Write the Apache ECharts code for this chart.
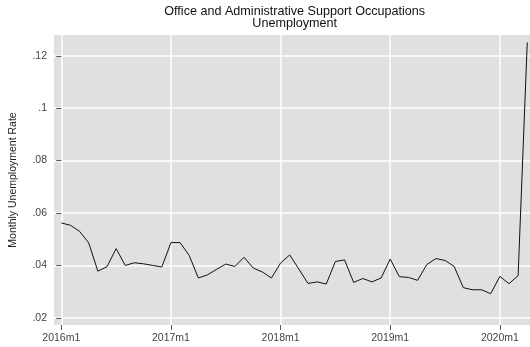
<!DOCTYPE html>
<html>
<head>
<meta charset="utf-8">
<script src="https://cdn.jsdelivr.net/npm/echarts@6/dist/echarts.min.js"></script>
<style>
html,body{margin:0;padding:0;background:#fff;}
#c{width:530px;height:347px;}
</style>
</head>
<body>
<div id="c"></div>
<script>
const months = [];
for (let y = 2016; y <= 2020; y++) for (let m = 1; m <= 12; m++) months.push(y + 'm' + m);
const categories = months.slice(0, 52);
const unemployment = [
  0.0562, 0.0553, 0.0530, 0.0486, 0.0378, 0.0395, 0.0464, 0.0400, 0.0410, 0.0406, 0.0400, 0.0394,
  0.0487, 0.0487, 0.0438, 0.0352, 0.0364, 0.0385, 0.0405, 0.0396, 0.0431, 0.0390, 0.0375, 0.0352,
  0.0409, 0.0440, 0.0386, 0.0331, 0.0337, 0.0329, 0.0415, 0.0421, 0.0335, 0.0350, 0.0337, 0.0352,
  0.0424, 0.0357, 0.0354, 0.0343, 0.0403, 0.0426, 0.0419, 0.0396, 0.0315, 0.0307, 0.0307, 0.0292,
  0.0358, 0.0330, 0.0361, 0.1251
];
const xTickLabels = ['2016m1', '2017m1', '2018m1', '2019m1', '2020m1'];
const yTickValues = [0.02, 0.04, 0.06, 0.08, 0.10, 0.12];
const yTickLabels = ['.02', '.04', '.06', '.08', '.1', '.12'];

const xTickValues = xTickLabels.map(l => categories.indexOf(l));
const seriesData = categories.map((c, i) => [i, unemployment[i]]);
const font = 'Liberation Sans, Arial, Helvetica, sans-serif';

const chart = echarts.init(document.getElementById('c'), null, {renderer: 'canvas'});
chart.setOption({
  animation: false,
  backgroundColor: '#ffffff',
  title: {
    text: 'Office and Administrative Support Occupations\nUnemployment',
    left: 289.7,
    textAlign: 'center',
    top: 1,
    textStyle: {fontFamily: font, fontSize: 12.6, fontWeight: 'normal', color: '#111', lineHeight: 11.5}
  },
  grid: {left: 49.3, right: 0, top: 35, bottom: 22, containLabel: false,
         show: true, backgroundColor: '#e0e0e0', borderWidth: 0},
  xAxis: {
    type: 'value',
    min: -0.8, max: 51.3,
    axisLine: {show: false},
    axisTick: {show: true, length: 5, customValues: xTickValues, lineStyle: {color: '#555', width: 1}},
    axisLabel: {customValues: xTickValues, margin: 8, fontFamily: font, fontSize: 10.5, color: '#444',
                formatter: v => categories[Math.round(v)]},
    splitLine: {show: true, lineStyle: {color: '#ffffff', width: 1.5}}
  },
  yAxis: {
    type: 'value',
    min: 0.01725, max: 0.12794,
    name: 'Monthly Unemployment Rate',
    nameLocation: 'middle',
    nameRotate: 90,
    nameGap: 35,
    nameTextStyle: {fontFamily: font, fontSize: 10.5, color: '#222'},
    axisLine: {show: false},
    axisTick: {show: true, length: 5, customValues: yTickValues, lineStyle: {color: '#555', width: 1}},
    axisLabel: {customValues: yTickValues, margin: 7, fontFamily: font, fontSize: 10.5, color: '#444',
                formatter: v => yTickLabels[yTickValues.findIndex(t => Math.abs(t - v) < 1e-9)]},
    splitLine: {show: true, lineStyle: {color: '#ffffff', width: 1.5}}
  },
  series: [{
    type: 'line',
    data: seriesData,
    symbol: 'none',
    lineStyle: {color: '#111', width: 1},
    silent: true
  }]
});
</script>
</body>
</html>
